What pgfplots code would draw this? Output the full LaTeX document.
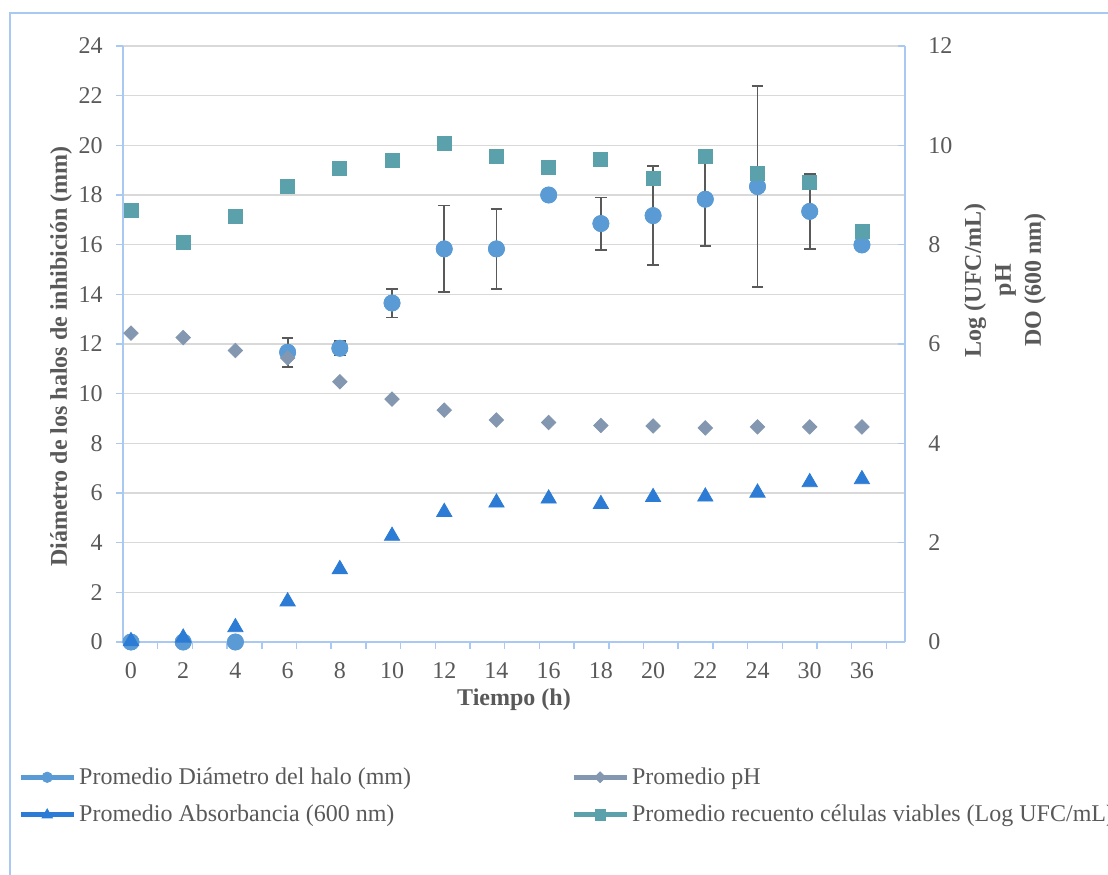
\documentclass[border=0pt]{standalone}
\usepackage{fontspec}
\setmainfont{Liberation Serif}
\usepackage{pgfplots}
\usepackage{pgfplotstable}
\pgfplotsset{compat=1.18}
\definecolor{txt}{HTML}{595959}
\definecolor{axblue}{HTML}{A9C8F2}
\definecolor{gridgray}{HTML}{D9D9D9}
\definecolor{cHalo}{HTML}{5B9BD5}
\definecolor{cPH}{HTML}{8497B0}
\definecolor{cAbs}{HTML}{2C7BD4}
\definecolor{cUFC}{HTML}{5AA1AC}
\definecolor{errgray}{HTML}{595959}

% x = category index (0 h, 2 h, ..., 24 h, 30 h, 36 h)
\pgfplotstableread{
x  halo   err
0  0      0
1  0      0
2  0      0
3  11.67  0.58
4  11.83  0.29
5  13.65  0.58
6  15.83  1.75
7  15.83  1.60
8  18.00  0
9  16.85  1.05
10 17.17  2.00
11 17.83  1.88
12 18.34  4.04
13 17.34  1.52
14 15.99  0
}\halotable

\pgfplotstableread{
x  ph    abs   ufc
0  6.22  0.06  8.70
1  6.13  0.13  8.04
2  5.87  0.34  8.56
3  5.72  0.86  9.17
4  5.24  1.51  9.54
5  4.89  2.18  9.70
6  4.67  2.66  10.03
7  4.47  2.85  9.77
8  4.42  2.93  9.56
9  4.36  2.82  9.72
10 4.35  2.96  9.33
11 4.31  2.97  9.78
12 4.33  3.05  9.44
13 4.33  3.26  9.26
14 4.33  3.32  8.26
}\righttable

\begin{document}
\begin{tikzpicture}[font=\fontsize{12}{14.4}\selectfont, text=txt]
\begin{axis}[
  scale only axis, width=391pt, height=298pt,
  at={(0,0)}, anchor=south west,
  clip=false,
  xmin=-0.1532, xmax=14.825, ymin=0, ymax=24,
  axis x line*=bottom, axis y line*=left,
  axis line style={color=axblue, line width=0.75pt},
  xtick={0,...,14},
  xticklabels={0,2,4,6,8,10,12,14,16,18,20,22,24,30,36},
  minor xtick={0.5114,1.176,1.8406,2.5052,3.1698,3.8344,4.499,5.1636,5.8282,6.4928,7.1574,7.822,8.4866,9.1512,9.8158,10.4804,11.145,11.8096,12.4742,13.1388,13.8034,14.468},
  ytick={0,2,...,24},
  tick align=outside,
  major tick length=3.5pt, minor tick length=3.5pt,
  major x tick style={draw=none},
  minor x tick style={color=axblue, line width=0.75pt},
  major y tick style={color=axblue, line width=0.75pt},
  ymajorgrids,
  major grid style={color=gridgray, line width=0.75pt},
  /pgf/number format/assume math mode=true,
  xticklabel style={anchor=base, yshift=-14.5pt, color=txt},
  yticklabel style={anchor=east, inner sep=0pt, xshift=-6.5pt, color=txt},
  xlabel={\textbf{Tiempo (h)}},
  xlabel style={at={(axis description cs:0.5,-0.1065)}, anchor=base, color=txt},
  ylabel={\textbf{Diámetro de los halos de inhibición (mm)}},
  ylabel style={at={(axis description cs:-0.0793,0.479)}, anchor=center, color=txt},
]
\addplot[only marks, mark=*, mark size=4pt, color=cHalo, mark options={draw=cHalo, fill=cHalo},
  error bars/.cd, y dir=both, y explicit,
  error bar style={color=errgray, line width=0.9pt},
  error mark options={rotate=90, mark size=2.9pt, color=errgray, line width=0.9pt}]
  table[x=x, y=halo, y error=err] {\halotable};
\addplot[only marks, mark=*, mark size=4pt, color=cHalo, mark options={draw=cHalo, fill=cHalo}]
  table[x=x, y=halo] {\halotable};
\end{axis}

\begin{axis}[
  scale only axis, width=391pt, height=298pt,
  at={(0,0)}, anchor=south west,
  clip=false,
  xmin=-0.1532, xmax=14.825, ymin=0, ymax=12,
  axis x line=none, axis y line*=right,
  axis line style={color=axblue, line width=0.75pt},
  ytick={0,2,...,12},
  tick align=inside, major tick length=3.5pt,
  major y tick style={color=axblue, line width=0.75pt},
  /pgf/number format/assume math mode=true,
  yticklabel style={anchor=west, inner sep=0pt, xshift=11.5pt, color=txt},
  ylabel={Log (UFC/mL)\\pH\\DO (600 nm)},
  ylabel style={at={(axis description cs:1.1279,0.607)}, anchor=center, align=center,
    font=\fontsize{12}{15}\selectfont\bfseries, color=txt},
  legend columns=2,
  legend cell align=left,
  legend style={at={(axis description cs:-0.1345,-0.2064)}, anchor=north west,
    draw=none, fill=none, inner sep=0pt, row sep=7pt, text=txt,
    nodes={inner sep=1pt},
    /tikz/every odd column/.append style={column sep=0.5pt},
    /tikz/every even column/.append style={column sep=79pt}},
]
\addlegendimage{legend image code/.code={
  \draw[cHalo, line width=2.5pt] (0pt,0pt) -- (26.5pt,0pt);
  \draw[cHalo] plot[mark=*, mark size=2.6pt, mark options={line width=0.4pt, draw=cHalo, fill=cHalo}]
    coordinates {(13.25pt,0pt)};}}
\addlegendentry{Promedio Diámetro del halo (mm)}

\addplot[only marks, mark=square*, mark size=2.55pt, color=cPH,
  mark options={rotate=45, draw=cPH, fill=cPH},
  legend image code/.code={
  \draw[cPH, line width=2.5pt] (0pt,0pt) -- (26.5pt,0pt);
  \draw[cPH] plot[mark=square*, mark size=1.9pt, mark options={rotate=45, line width=0.4pt, draw=cPH, fill=cPH}]
    coordinates {(13.25pt,0pt)};}]
  table[x=x, y=ph] {\righttable};
\addlegendentry{Promedio pH}

\addplot[only marks, mark=triangle*, mark size=4.4pt, color=cAbs,
  mark options={draw=cAbs, fill=cAbs, yshift=-1.1pt},
  legend image code/.code={
  \draw[cAbs, line width=2.5pt] (0pt,0pt) -- (26.5pt,0pt);
  \draw[cAbs] plot[mark=triangle*, mark size=3pt, mark options={line width=0.4pt, draw=cAbs, fill=cAbs}]
    coordinates {(13.25pt,0pt)};}]
  table[x=x, y=abs] {\righttable};
\addlegendentry{Promedio Absorbancia (600 nm)}

\addplot[only marks, mark=square*, mark size=3.5pt, color=cUFC,
  mark options={draw=cUFC, fill=cUFC},
  legend image code/.code={
  \draw[cUFC, line width=2.5pt] (0pt,0pt) -- (26.5pt,0pt);
  \draw[cUFC] plot[mark=square*, mark size=2.6pt, mark options={line width=0.4pt, draw=cUFC, fill=cUFC}]
    coordinates {(13.25pt,0pt)};}]
  table[x=x, y=ufc] {\righttable};
\addlegendentry{Promedio recuento células viables (Log UFC/mL)}
\end{axis}

\draw[axblue, line width=0.75pt] (-56.5pt,-130pt) -- (-56.5pt,314.5pt) -- (510pt,314.5pt);
\pgfresetboundingbox
\useasboundingbox (-61.5pt,-116pt) rectangle (492.5pt,321pt);
\end{tikzpicture}
\end{document}
